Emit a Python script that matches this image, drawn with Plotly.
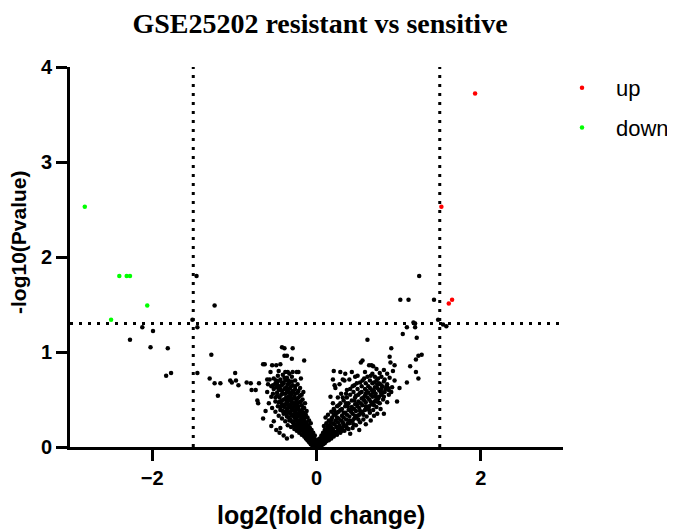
import plotly.graph_objects as go

# ---- data ----
up_x = [1.93, 1.52, 1.61, 1.65]
up_y = [3.72, 2.53, 1.51, 1.55]

down_x = [-2.82, -2.40, -2.31, -2.27, -2.06, -2.50]
down_y = [2.53, 1.80, 1.80, 1.80, 1.49, 1.34]

left_arm = [
    (-0.01, 0.00), (0.02, 0.01), (-0.03, 0.02), (0.00, 0.02), (0.04, 0.02), (-0.05, 0.01), (-0.02, 0.04), (0.01, 0.05), (-0.07, 0.03), (0.03, 0.04),
    (-0.04, 0.06), (-0.09, 0.05), (-0.06, 0.08), (-0.01, 0.07), (0.02, 0.08), (-0.11, 0.07), (-0.03, 0.09), (-0.08, 0.10), (0.05, 0.06), (-0.13, 0.09),
    (-0.05, 0.11), (-0.10, 0.12), (-0.15, 0.11), (-0.07, 0.13), (-0.02, 0.12), (-0.12, 0.14), (-0.18, 0.13), (-0.04, 0.15), (-0.09, 0.16), (-0.14, 0.16),
    (-0.21, 0.15), (-0.06, 0.18), (-0.11, 0.18), (-0.17, 0.18), (-0.24, 0.17), (-0.08, 0.20), (-0.13, 0.21), (-0.19, 0.20), (-0.27, 0.19), (-0.15, 0.23),
    (-0.10, 0.23), (-0.22, 0.22), (-0.31, 0.21), (-0.07, 0.25), (-0.17, 0.25), (-0.25, 0.24), (-0.12, 0.26), (-0.35, 0.23), (-0.20, 0.27), (-0.29, 0.26),
    (-0.09, 0.28), (-0.15, 0.29), (-0.24, 0.29), (-0.38, 0.27), (-0.32, 0.29), (-0.18, 0.31), (-0.11, 0.31), (-0.27, 0.31), (-0.42, 0.30), (-0.21, 0.33),
    (-0.13, 0.34), (-0.30, 0.33), (-0.36, 0.32), (-0.46, 0.33), (-0.16, 0.36), (-0.24, 0.35), (-0.33, 0.36), (-0.40, 0.35), (-0.19, 0.38), (-0.27, 0.38),
    (-0.12, 0.38), (-0.50, 0.37), (-0.36, 0.39), (-0.44, 0.39), (-0.22, 0.40), (-0.30, 0.41), (-0.15, 0.41), (-0.39, 0.42), (-0.54, 0.41), (-0.25, 0.43),
    (-0.18, 0.44), (-0.33, 0.44), (-0.47, 0.43), (-0.42, 0.45), (-0.28, 0.46), (-0.14, 0.46), (-0.21, 0.47), (-0.36, 0.47), (-0.58, 0.46), (-0.50, 0.48),
    (-0.31, 0.49), (-0.24, 0.50), (-0.17, 0.50), (-0.40, 0.50), (-0.45, 0.52), (-0.27, 0.53), (-0.34, 0.53), (-0.20, 0.54), (-0.55, 0.53), (-0.38, 0.56),
    (-0.30, 0.57), (-0.23, 0.57), (-0.48, 0.57), (-0.16, 0.58), (-0.42, 0.59), (-0.34, 0.60), (-0.26, 0.61), (-0.60, 0.58), (-0.52, 0.61), (-0.20, 0.62),
    (-0.37, 0.63), (-0.45, 0.64), (-0.29, 0.65), (-0.23, 0.66), (-0.40, 0.67), (-0.33, 0.68), (-0.50, 0.67), (-0.26, 0.70), (-0.44, 0.71), (-0.36, 0.73),
    (-0.30, 0.74), (-0.19, 0.72), (-0.41, 0.76), (-0.33, 0.77), (-0.47, 0.75),
    (0.00, 0.03), (-0.02, 0.06), (-0.04, 0.03), (0.01, 0.03), (-0.06, 0.06), (-0.08, 0.08), (-0.03, 0.10), (-0.10, 0.10), (-0.05, 0.14), (-0.12, 0.12),
    (-0.08, 0.14), (-0.14, 0.14), (-0.16, 0.16), (-0.10, 0.19), (-0.20, 0.18), (-0.13, 0.18), (-0.18, 0.22), (-0.23, 0.21), (-0.12, 0.22), (-0.20, 0.24),
    (-0.27, 0.23), (-0.16, 0.27), (-0.22, 0.26), (-0.30, 0.27), (-0.26, 0.28), (-0.19, 0.29), (-0.34, 0.31), (-0.14, 0.32), (-0.23, 0.32), (-0.28, 0.34),
    (-0.37, 0.35), (-0.20, 0.36), (-0.31, 0.38), (-0.41, 0.38), (-0.25, 0.39), (-0.17, 0.40), (-0.35, 0.41), (-0.28, 0.42), (-0.44, 0.42), (-0.22, 0.43),
    (-0.38, 0.45), (-0.31, 0.45), (-0.25, 0.47), (-0.46, 0.47), (-0.19, 0.48), (-0.34, 0.49), (-0.42, 0.49), (-0.28, 0.51), (-0.22, 0.52), (-0.37, 0.52),
    (-0.50, 0.52), (-0.31, 0.55), (-0.43, 0.55), (-0.26, 0.56), (-0.18, 0.55), (-0.36, 0.58), (-0.53, 0.56), (-0.29, 0.59), (-0.46, 0.60), (-0.39, 0.61),
    (-0.22, 0.59), (-0.32, 0.62), (-0.49, 0.63), (-0.42, 0.65), (-0.26, 0.64), (-0.35, 0.66), (-0.55, 0.64), (-0.30, 0.69), (-0.38, 0.70), (-0.47, 0.69),
    (-0.45, 0.15), (-0.36, 0.09), (-0.52, 0.27), (-0.62, 0.38), (-0.44, 0.20), (-0.30, 0.11),
    (-0.03, 0.05), (-0.07, 0.07), (-0.05, 0.09), (-0.11, 0.11), (-0.09, 0.13), (-0.15, 0.14), (-0.12, 0.17), (-0.19, 0.17), (-0.16, 0.20), (-0.22, 0.20),
    (-0.14, 0.24), (-0.25, 0.22), (-0.19, 0.26), (-0.28, 0.25), (-0.23, 0.28), (-0.33, 0.28), (-0.17, 0.33), (-0.26, 0.33), (-0.32, 0.35), (-0.38, 0.37),
    (-0.21, 0.37), (-0.29, 0.39), (-0.33, 0.42), (-0.41, 0.43), (-0.24, 0.45), (-0.36, 0.45), (-0.30, 0.47), (-0.44, 0.48), (-0.38, 0.50), (-0.26, 0.51),
    (-0.32, 0.52), (-0.48, 0.54), (-0.41, 0.56), (-0.34, 0.57), (-0.28, 0.58), (-0.44, 0.61), (-0.36, 0.62), (-0.31, 0.64), (-0.48, 0.66), (-0.42, 0.68),
    (-0.34, 0.70), (-0.39, 0.73),
]

left_sparse = [
    (-0.42, 1.05), (-0.39, 1.04), (-0.29, 1.04), (-0.39, 0.96), (-0.36, 0.96), (-0.30, 0.93), (-0.15, 0.91),
    (-0.65, 0.87), (-0.63, 0.87), (-0.54, 0.86), (-0.49, 0.86), (-0.44, 0.87),
    (-0.56, 0.79), (-0.46, 0.80), (-0.38, 0.79), (-0.35, 0.79), (-0.29, 0.79), (-0.24, 0.79), (-0.22, 0.79),
    (-0.60, 0.71), (-0.57, 0.71), (-0.52, 0.72), (-0.49, 0.70), (-0.59, 0.66), (-0.53, 0.65),
    (-0.72, 0.49), (-0.71, 0.46), (-0.65, 0.30), (-0.49, 0.18), (-0.40, 0.12), (-0.55, 0.22),
]

far_left = [
    (-2.12, 1.26), (-1.99, 1.22), (-2.27, 1.13), (-2.02, 1.05), (-1.81, 1.04), (-1.83, 0.75), (-1.77, 0.78),
    (-1.46, 1.80), (-1.51, 1.34), (-1.45, 1.26), (-1.45, 0.78), (-1.24, 1.49), (-1.28, 0.97), (-1.30, 0.72),
    (-1.24, 0.67), (-1.17, 0.67), (-1.20, 0.54), (-1.05, 0.70), (-1.03, 0.68), (-0.98, 0.70), (-0.99, 0.78),
    (-0.95, 0.65), (-0.85, 0.68), (-0.80, 0.67), (-0.79, 0.60), (-0.74, 0.60), (-0.70, 0.67),
]

right_arm = [
    (0.02, 0.00), (0.04, 0.02), (0.01, 0.03), (0.06, 0.01), (0.03, 0.05), (0.08, 0.03), (0.05, 0.06), (0.10, 0.04), (0.07, 0.08), (0.12, 0.06),
    (0.04, 0.09), (0.15, 0.07), (0.09, 0.10), (0.13, 0.09), (0.06, 0.12), (0.18, 0.09), (0.11, 0.13), (0.16, 0.12), (0.21, 0.11), (0.08, 0.15),
    (0.14, 0.15), (0.19, 0.14), (0.25, 0.13), (0.10, 0.18), (0.17, 0.17), (0.23, 0.16), (0.29, 0.15), (0.13, 0.20), (0.20, 0.19), (0.27, 0.18),
    (0.34, 0.17), (0.09, 0.22), (0.16, 0.23), (0.24, 0.21), (0.31, 0.20), (0.39, 0.19), (0.12, 0.25), (0.20, 0.25), (0.28, 0.23), (0.36, 0.22),
    (0.44, 0.20), (0.15, 0.28), (0.23, 0.28), (0.32, 0.26), (0.40, 0.25), (0.48, 0.23), (0.11, 0.31), (0.19, 0.31), (0.27, 0.30), (0.36, 0.29),
    (0.44, 0.28), (0.53, 0.26), (0.14, 0.34), (0.23, 0.34), (0.31, 0.33), (0.40, 0.32), (0.48, 0.31), (0.57, 0.29), (0.18, 0.37), (0.27, 0.37),
    (0.35, 0.36), (0.44, 0.35), (0.52, 0.34), (0.61, 0.32), (0.70, 0.33), (0.21, 0.40), (0.31, 0.40), (0.39, 0.39), (0.48, 0.38), (0.56, 0.37),
    (0.65, 0.36), (0.25, 0.43), (0.35, 0.43), (0.43, 0.42), (0.52, 0.41), (0.60, 0.40), (0.69, 0.39), (0.78, 0.40), (0.20, 0.46), (0.29, 0.46),
    (0.39, 0.46), (0.47, 0.45), (0.56, 0.44), (0.64, 0.43), (0.73, 0.42), (0.33, 0.49), (0.43, 0.49), (0.51, 0.48), (0.60, 0.47), (0.68, 0.46),
    (0.77, 0.46), (0.86, 0.47), (0.26, 0.52), (0.37, 0.52), (0.47, 0.52), (0.55, 0.51), (0.64, 0.50), (0.72, 0.49), (0.81, 0.50), (0.41, 0.55),
    (0.51, 0.55), (0.59, 0.54), (0.68, 0.53), (0.76, 0.53), (0.88, 0.55), (0.30, 0.56), (0.45, 0.58), (0.55, 0.58), (0.63, 0.57), (0.72, 0.56),
    (0.80, 0.57), (0.37, 0.60), (0.50, 0.61), (0.59, 0.61), (0.67, 0.60), (0.76, 0.60), (0.84, 0.61), (0.44, 0.64), (0.55, 0.64), (0.63, 0.64),
    (0.71, 0.63), (0.80, 0.64), (0.92, 0.63), (0.28, 0.66), (0.49, 0.67), (0.60, 0.67), (0.68, 0.67), (0.76, 0.67), (0.86, 0.66), (0.56, 0.70),
    (0.65, 0.70), (0.73, 0.70), (0.83, 0.71), (0.40, 0.71), (0.62, 0.74), (0.71, 0.74), (0.79, 0.74), (0.89, 0.73), (0.50, 0.75), (0.68, 0.77),
    (0.77, 0.78), (0.86, 0.77), (0.59, 0.79), (0.82, 0.81), (0.93, 0.80), (0.73, 0.82),
    (0.03, 0.02), (0.05, 0.04), (0.02, 0.06), (0.08, 0.06), (0.11, 0.08), (0.06, 0.10), (0.14, 0.11), (0.09, 0.13), (0.18, 0.13), (0.12, 0.16),
    (0.22, 0.15), (0.15, 0.19), (0.26, 0.17), (0.18, 0.21), (0.30, 0.19), (0.22, 0.24), (0.34, 0.22), (0.26, 0.26), (0.38, 0.25), (0.30, 0.28),
    (0.42, 0.27), (0.33, 0.31), (0.46, 0.30), (0.37, 0.34), (0.50, 0.33), (0.42, 0.37), (0.55, 0.36), (0.46, 0.40), (0.59, 0.39), (0.50, 0.43),
    (0.63, 0.42), (0.54, 0.46), (0.67, 0.45), (0.58, 0.49), (0.71, 0.48), (0.62, 0.52), (0.75, 0.51), (0.66, 0.55), (0.79, 0.55), (0.70, 0.59),
    (0.83, 0.58), (0.74, 0.62), (0.87, 0.62), (0.78, 0.66), (0.82, 0.69), (0.70, 0.68), (0.60, 0.56), (0.48, 0.54), (0.36, 0.46), (0.25, 0.36),
    (0.52, 0.18), (0.60, 0.24), (0.41, 0.14), (0.66, 0.28), (0.17, 0.53), (0.23, 0.62), (0.34, 0.70), (0.95, 0.70), (0.91, 0.58),
    (0.07, 0.04), (0.10, 0.07), (0.13, 0.12), (0.17, 0.10), (0.20, 0.16), (0.24, 0.14), (0.27, 0.21), (0.31, 0.17), (0.33, 0.24), (0.37, 0.20),
    (0.40, 0.28), (0.45, 0.24), (0.47, 0.33), (0.51, 0.29), (0.53, 0.38), (0.57, 0.34), (0.60, 0.43), (0.64, 0.39), (0.66, 0.48), (0.70, 0.44),
    (0.72, 0.53), (0.75, 0.47), (0.78, 0.58), (0.82, 0.53), (0.85, 0.64), (0.88, 0.60),
    (0.17, 0.26), (0.21, 0.34), (0.25, 0.31), (0.29, 0.39), (0.33, 0.36), (0.38, 0.43), (0.42, 0.40), (0.46, 0.49), (0.49, 0.45), (0.53, 0.57),
    (0.57, 0.52), (0.61, 0.59), (0.65, 0.62), (0.69, 0.57), (0.74, 0.66), (0.79, 0.61),
    (0.14, 0.22), (0.18, 0.29), (0.22, 0.38), (0.27, 0.44), (0.32, 0.52), (0.36, 0.56), (0.41, 0.61), (0.46, 0.65), (0.53, 0.68), (0.58, 0.72),
    (0.66, 0.75), (0.75, 0.72),
]

right_sparse = [
    (0.62, 1.13), (0.54, 0.89), (0.56, 0.91), (0.64, 0.86), (0.67, 0.86), (0.69, 0.85), (0.91, 1.04),
    (0.89, 0.95), (0.90, 0.89), (0.95, 0.86), (1.21, 0.92), (1.24, 0.96), (1.28, 0.97), (1.14, 0.85),
    (1.21, 0.79), (1.24, 0.72), (0.82, 0.35), (0.74, 0.35), (0.98, 0.48), (1.01, 0.62), (1.10, 0.68),
    (0.21, 0.80), (0.29, 0.79), (0.43, 0.79), (0.32, 0.71), (0.20, 0.71), (0.22, 0.65), (0.47, 0.74), (0.35, 0.77),
    (1.02, 1.55), (1.12, 1.55), (1.43, 1.55), (1.25, 1.80),
    (1.18, 1.31), (1.20, 1.30), (1.48, 1.34), (1.54, 1.29), (1.58, 1.27),
    (1.10, 1.26), (1.20, 1.26), (1.05, 1.19), (1.22, 1.15),
]

ns_points = left_arm + left_sparse + far_left + right_arm + right_sparse
ns_x = [p[0] for p in ns_points]
ns_y = [p[1] for p in ns_points]

x_ticks = [-2, 0, 2]
y_ticks = [0, 1, 2, 3, 4]
fc_cut = 1.5
p_cut = 1.3

fig = go.Figure()
fig.add_trace(go.Scatter(x=ns_x, y=ns_y, mode="markers", showlegend=False,
                         marker=dict(color="black", size=4.5), cliponaxis=False))
fig.add_trace(go.Scatter(x=up_x, y=up_y, mode="markers", name="up", legendgroup="up",
                         marker=dict(color="#ff0000", size=4.5), cliponaxis=False))
fig.add_trace(go.Scatter(x=down_x, y=down_y, mode="markers", name="down", legendgroup="down",
                         marker=dict(color="#00ff00", size=4.5), cliponaxis=False))

dot = dict(color="black", width=3, dash="3px,6px")
for xv in (-fc_cut, fc_cut):
    fig.add_shape(type="line", xref="x", yref="y", x0=xv, x1=xv, y0=0, y1=4, line=dot, layer="below")
fig.add_shape(type="line", xref="x", yref="y", x0=-3, x1=3, y0=p_cut, y1=p_cut, line=dot, layer="below")

sans = "Liberation Sans, Arial"
axis_common = dict(showline=True, linewidth=3, linecolor="black", ticks="outside",
                   ticklen=11, tickwidth=3, tickcolor="black", showgrid=False, zeroline=False,
                   automargin=False,
                   tickfont=dict(family=sans, size=20, color="black", weight="bold"))

W, H = 667, 522  # page body adds an 8px offset
PW, PH = 493, 380
fig.update_layout(
    width=W, height=H,
    margin=dict(l=62, r=112, t=59, b=83, autoexpand=False),
    plot_bgcolor="white", paper_bgcolor="white",
    title=dict(text="GSE25202 resistant vs sensitive", x=0.5 + 3.5 / PW, xref="paper", xanchor="center",
               y=1 - 15 / H, yref="container", yanchor="middle",
               font=dict(family="Liberation Serif, Times New Roman", size=28, color="black", weight="bold")),
    xaxis=dict(range=[-3, 3], tickvals=x_ticks, **axis_common),
    yaxis=dict(range=[0, 4], tickvals=y_ticks, **axis_common),
    legend=dict(x=(540 - 62) / PW, xanchor="left", y=1.0, yanchor="top", tracegroupgap=8, itemwidth=58,
                font=dict(family=sans, size=22, color="black"),
                bgcolor="rgba(0,0,0,0)"),
    annotations=[
        dict(text="log2(fold change)", xref="paper", yref="paper", x=0.51, y=-68 / PH,
             xanchor="center", yanchor="middle", showarrow=False,
             font=dict(family=sans, size=25, color="black", weight="bold")),
        dict(text="-log10(Pvalue)", xref="paper", yref="paper", x=-52 / PW, y=205 / PH,
             xanchor="center", yanchor="middle", textangle=-90, showarrow=False,
             font=dict(family=sans, size=21, color="black", weight="bold")),
    ],
)

fig.write_html("out.html")
